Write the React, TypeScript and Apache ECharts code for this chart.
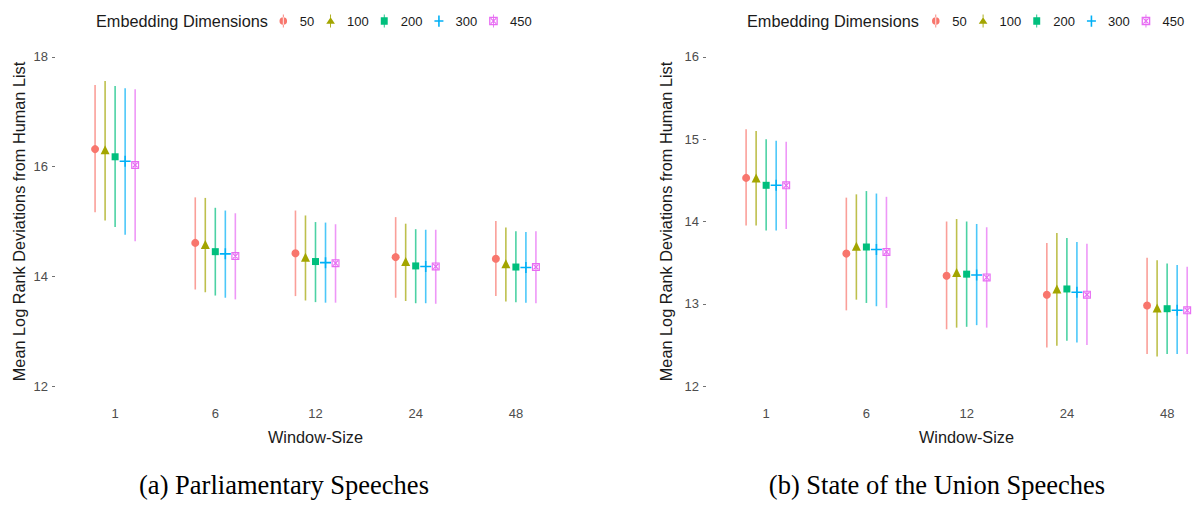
import React, { useEffect, useRef } from "react";
import * as echarts from "echarts";

// ---- data ----
const windowSizes = ["1", "6", "12", "24", "48"];
const dims = ["50", "100", "200", "300", "450"];
const colors = ["#F8766D", "#A3A500", "#00BF7D", "#00B0F6", "#E76BF3"];

// Parliamentary Speeches (rows: dims, cols: window sizes)
const parlMean = [
  [16.32, 14.61, 14.42, 14.35, 14.32],
  [16.31, 14.58, 14.35, 14.27, 14.23],
  [16.18, 14.45, 14.27, 14.19, 14.17],
  [16.1, 14.41, 14.25, 14.18, 14.16],
  [16.03, 14.37, 14.24, 14.18, 14.17],
];
const parlLow = [
  [15.17, 13.76, 13.64, 13.61, 13.64],
  [15.02, 13.71, 13.56, 13.55, 13.54],
  [14.9, 13.65, 13.53, 13.51, 13.53],
  [14.76, 13.61, 13.52, 13.51, 13.52],
  [14.64, 13.58, 13.52, 13.5, 13.51],
];
const parlHigh = [
  [17.49, 15.44, 15.2, 15.08, 15.01],
  [17.56, 15.43, 15.11, 14.96, 14.89],
  [17.47, 15.25, 14.99, 14.86, 14.82],
  [17.43, 15.2, 14.98, 14.85, 14.81],
  [17.41, 15.15, 14.95, 14.85, 14.82],
];

// State of the Union Speeches
const sotuMean = [
  [14.53, 13.61, 13.34, 13.11, 12.98],
  [14.53, 13.7, 13.38, 13.18, 12.95],
  [14.44, 13.69, 13.36, 13.18, 12.94],
  [14.44, 13.66, 13.35, 13.14, 12.92],
  [14.44, 13.63, 13.32, 13.11, 12.92],
];
const sotuLow = [
  [13.95, 12.92, 12.69, 12.47, 12.39],
  [13.95, 13.05, 12.71, 12.49, 12.36],
  [13.89, 13.01, 12.72, 12.55, 12.39],
  [13.89, 12.97, 12.74, 12.53, 12.39],
  [13.91, 12.95, 12.71, 12.5, 12.39],
];
const sotuHigh = [
  [15.12, 14.29, 14.0, 13.74, 13.56],
  [15.1, 14.33, 14.03, 13.86, 13.53],
  [15.0, 14.37, 14.0, 13.8, 13.49],
  [14.98, 14.34, 13.97, 13.75, 13.47],
  [14.97, 14.3, 13.93, 13.73, 13.45],
];

const parlTicks = [12, 14, 16, 18];
const sotuTicks = [12, 13, 14, 15, 16];
const dodge = [-0.2, -0.1, 0, 0.1, 0.2];

const PLUS = "path://M0,4.3H10V5.7H0Z M4.3,0H5.7V10H4.3Z";
const BOXX =
  "path://M0,0H10V10H0Z M1.4,1.4V8.6H8.6V1.4Z M1.4,2.4L2.4,1.4L8.6,7.6L7.6,8.6Z M7.6,1.4L8.6,2.4L2.4,8.6L1.4,7.6Z";
const symbols = ["circle", "triangle", "rect", PLUS, BOXX];
const symbolSizes = [8, 9, 7, 11, 8];

const legendIcons = [
  "path://M3.6,0H4.4V12H3.6Z M0.5,6A3.5,3.5 0 1 0 7.5,6A3.5,3.5 0 1 0 0.5,6Z",
  "path://M3.6,0H4.4V12H3.6Z M0,8.5L4,2.5L8,8.5Z",
  "path://M3.6,0H4.4V12H3.6Z M0.8,2.6H7.2V9.4H0.8Z",
  "path://M0,5.3H8V6.7H0Z M3.3,1H4.7V11H3.3Z",
  "path://M3.6,0H4.4V12H3.6Z M0,2H8V10H0Z M1.2,3.2V8.8H6.8V3.2Z M1.2,4L2,3.2L6.8,8L6,8.8Z M6,3.2L6.8,4L2,8.8L1.2,8Z",
];

const FONT = "Liberation Sans, Arial, sans-serif";
const SERIF = "Liberation Serif, Times New Roman, serif";

function buildSeries(
  gridIdx: number,
  mean: number[][],
  low: number[][],
  high: number[][]
) {
  const out: any[] = [];
  dims.forEach((d, i) => {
    const c = colors[i];
    out.push({
      type: "custom",
      name: d,
      xAxisIndex: gridIdx,
      yAxisIndex: gridIdx,
      itemStyle: { color: c },
      encode: { x: 0, y: [1, 2] },
      data: windowSizes.map((_, j) => [j + 1 + dodge[i], low[i][j], high[i][j]]),
      renderItem: (params: any, api: any) => {
        const p1 = api.coord([api.value(0), api.value(1)]);
        const p2 = api.coord([api.value(0), api.value(2)]);
        return {
          type: "line",
          shape: { x1: p1[0], y1: p1[1], x2: p2[0], y2: p2[1] },
          style: { stroke: c, lineWidth: 1.6, opacity: 0.7 },
        };
      },
      z: 2,
    });
    out.push({
      type: "scatter",
      name: d,
      xAxisIndex: gridIdx,
      yAxisIndex: gridIdx,
      symbol: symbols[i],
      symbolSize: symbolSizes[i],
      itemStyle: { color: c, opacity: 1 },
      data: windowSizes.map((_, j) => [j + 1 + dodge[i], mean[i][j]]),
      z: 3,
    });
  });
  return out;
}

function xAxis(gridIdx: number, max: number) {
  return {
    type: "value",
    gridIndex: gridIdx,
    min: 0.4,
    max,
    axisLine: { show: false },
    axisTick: { show: false },
    splitLine: { show: false },
    axisLabel: {
      customValues: [1, 2, 3, 4, 5],
      formatter: (v: number) => windowSizes[Math.round(v) - 1],
      color: "#4d4d4d",
      fontSize: 13,
      fontFamily: FONT,
      margin: 4,
    },
  };
}

function yAxis(
  gridIdx: number,
  min: number,
  max: number,
  ticks: number[],
  gap: number
) {
  return {
    type: "value",
    gridIndex: gridIdx,
    min,
    max,
    axisLine: { show: false },
    splitLine: { show: false },
    axisTick: {
      show: true,
      customValues: ticks,
      length: 3,
      lineStyle: { color: "#4d4d4d", width: 0.8 },
    },
    axisLabel: {
      customValues: ticks,
      color: "#4d4d4d",
      fontSize: 13,
      fontFamily: FONT,
      margin: 7,
    },
    name: "Mean Log Rank Deviations from Human List",
    nameLocation: "middle",
    nameGap: gap,
    nameRotate: 90,
    nameTextStyle: { fontSize: 16.3, color: "#1a1a1a", fontFamily: FONT },
  };
}

function legend(left: number) {
  return {
    left,
    top: 14.5,
    padding: 0,
    orient: "horizontal",
    itemWidth: 9,
    itemHeight: 13,
    itemGap: 12,
    selectedMode: false,
    textStyle: {
      fontSize: 13,
      color: "#1a1a1a",
      fontFamily: FONT,
      padding: [0, 0, 0, 7],
    },
    data: dims.map((d, i) => ({
      name: d,
      icon: legendIcons[i],
      itemStyle: { color: colors[i] },
    })),
  };
}

function text(x: number, y: number, s: string, size: number, family: string, align = "center") {
  return {
    type: "text",
    x,
    y,
    style: {
      text: s,
      fontSize: size,
      fontFamily: family,
      fill: family === SERIF ? "#000000" : "#1a1a1a",
      align,
      verticalAlign: "middle",
    },
  };
}

export default function App() {
  const ref = useRef<HTMLDivElement>(null);
  useEffect(() => {
    if (!ref.current) return;
    const chart = echarts.init(ref.current, undefined, { renderer: "svg" });
    chart.setOption({
      animation: false,
      backgroundColor: "#ffffff",
      grid: [
        { left: 55, top: 40.5, width: 521, height: 362 },
        { left: 706, top: 40.5, right: 0, height: 362 },
      ],
      xAxis: [xAxis(0, 5.6), xAxis(1, 5.268)],
      yAxis: [
        yAxis(0, 11.7, 18.3, parlTicks, 28),
        yAxis(1, 11.8, 16.2, sotuTicks, 32),
      ],
      legend: [legend(279.5), legend(932)],
      graphic: [
        text(96, 21, "Embedding Dimensions", 16.3, FONT, "left"),
        text(747, 21, "Embedding Dimensions", 16.3, FONT, "left"),
        text(315.5, 437, "Window-Size", 16.3, FONT),
        text(966.5, 437, "Window-Size", 16.3, FONT),
        text(284, 485, "(a) Parliamentary Speeches", 26.5, SERIF),
        text(937, 485, "(b) State of the Union Speeches", 26.5, SERIF),
      ],
      series: [
        ...buildSeries(0, parlMean, parlLow, parlHigh),
        ...buildSeries(1, sotuMean, sotuLow, sotuHigh),
      ],
    });
    return () => chart.dispose();
  }, []);
  return (
    <div
      ref={ref}
      style={{ position: "fixed", left: 0, top: 0, width: 1194, height: 517 }}
    />
  );
}
